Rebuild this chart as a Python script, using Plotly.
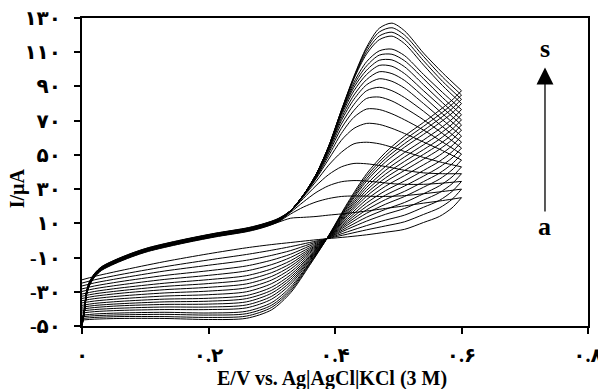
import plotly.graph_objects as go

# ---------------- data ----------------
curve_labels = list("abcdefghijklmnopqrs")

# shared start of the anodic (forward) scan, E in V, I in uA
fwd_start_E = [0, 0.004, 0.007, 0.012, 0.02, 0.031, 0.052, 0.078, 0.105, 0.157, 0.21, 0.263, 0.289, 0.31]
fwd_start_I = [-49, -40.5, -31, -25, -20.2, -16.3, -12.4, -8.5, -5.2, -0.7, 3.2, 6.5, 9.0, 11.8]
# small spread of the individual curves inside that shared band (a ... s)
band_shift = [-1.2, -1.0, -0.8, -0.6, -0.5, -0.4, -0.3, -0.2, -0.1, 0, 0.1, 0.2, 0.3, 0.4, 0.5, 0.6, 0.7, 0.85, 1.0]

# forward scan, second part
fwd_E = [0.33, 0.35, 0.37, 0.39, 0.41, 0.43, 0.45, 0.47, 0.49, 0.51, 0.54, 0.57, 0.6]
fwd_a = [13, 13.5, 14, 14.8, 15.5, 16.3, 17.2, 18.2, 19.2, 20.2, 21.8, 23.3, 25]
fwd_b = [15.5, 19.5, 22.5, 24.5, 25.7, 26, 25.9, 25.7, 25.8, 26.2, 27.3, 28.6, 30]
fwd_c = [16.5, 22.5, 28, 32, 34.3, 35, 34.7, 34, 33.2, 32.8, 32.8, 33.5, 34.5]
fwd_d = [17, 24.5, 32, 38.5, 43, 45, 44.8, 43.8, 42.5, 41, 39.5, 39, 39]
fwd_e = [17, 25.5, 34.5, 44, 51.5, 56.5, 57.4, 56.5, 54.5, 52, 48.5, 45.5, 43]
fwd_f = [17.5, 26, 36, 47.5, 58.5, 65.5, 68.4, 67.8, 65.5, 62.5, 57.5, 52.5, 47]
fwd_g = [17.5, 26, 36.5, 49.5, 62.5, 72, 76.8, 76.5, 74, 70.5, 64.5, 57.5, 50.5]
fwd_h = [17.5, 26, 37, 51, 65.5, 76, 83, 83.8, 81.5, 77.5, 70.5, 62.5, 54]
fwd_i = [17.5, 26.5, 37.5, 52, 68, 79.5, 87.5, 89.5, 87.5, 83.5, 75.5, 66.5, 57.5]
fwd_j = [17.5, 26.5, 38, 53, 70, 82.5, 91, 94.5, 93, 89, 80, 70.5, 61]
fwd_k = [17.5, 26.5, 38, 53.5, 71.5, 85, 94, 98.6, 97.5, 93.5, 84, 74, 64.5]
fwd_l = [17.5, 26.5, 38, 54, 73, 87.5, 97, 102.3, 101.8, 97.5, 87.5, 77.5, 67.5]
fwd_m = [17.5, 26.5, 38, 54, 74, 89.5, 99.5, 105.3, 105.5, 101.5, 91, 80.5, 70.5]
fwd_n = [17.5, 26.5, 38.5, 54.5, 74.5, 91, 102, 108.3, 108.8, 105, 94.5, 83.5, 73.5]
fwd_o = [17.5, 26.5, 38.5, 54.5, 75, 92.5, 104.5, 110.8, 111.8, 108, 97, 86.5, 76.5]
fwd_p = [17.5, 26.5, 38.5, 55, 75.5, 94.5, 109, 117.3, 119.4, 115, 102.5, 90.5, 80]
fwd_q = [17.5, 26.5, 38.5, 55, 75.5, 95, 110.5, 119.5, 121.7, 117.5, 105, 93, 82.5]
fwd_r = [17.5, 26.5, 38.5, 55, 76, 95.5, 112, 121.8, 124.3, 120, 107.5, 95.5, 85]
fwd_s = [17.5, 26.5, 38.5, 55, 76, 96, 113, 124, 127, 122.5, 109.5, 98, 87.5]

# reverse (cathodic) scan, 0.6 V back to 0 V
rev_E = [0.6, 0.585, 0.565, 0.54, 0.51, 0.48, 0.45, 0.42, 0.387, 0.36, 0.33, 0.30, 0.26, 0.20, 0.13, 0.06, 0.02, 0]
rev_a = [25, 19, 14, 10.5, 6.5, 4.8, 3.3, 2.1, 1, 0, -1.2, -2.4, -4.3, -7.8, -12.4, -17.7, -21, -23]
rev_b = [30, 24, 19, 15.2, 10.9, 8.5, 6.2, 3.7, 1, -1.2, -3.6, -5.7, -8.2, -11.4, -15.4, -20, -23, -24.9]
rev_c = [34.5, 28.6, 23.4, 19.4, 14.8, 11.9, 8.7, 5.1, 1, -2.2, -5.9, -8.7, -11.6, -14.5, -17.9, -22.1, -24.8, -26.6]
rev_d = [39, 33.1, 27.9, 23.6, 18.7, 15.3, 11.3, 6.6, 1, -3.2, -8, -11.5, -14.9, -17.7, -20.5, -24.1, -26.6, -28.3]
rev_e = [43, 37.1, 31.9, 27.3, 22.2, 18.2, 13.6, 7.8, 1, -4.2, -9.9, -14.1, -17.8, -20.4, -22.8, -26, -28.2, -29.8]
rev_f = [47, 41.2, 35.8, 31.1, 25.7, 21.2, 15.9, 9.1, 1, -5.1, -11.8, -16.6, -20.6, -22.9, -25, -27.8, -29.8, -31.3]
rev_g = [50.5, 44.7, 39.3, 34.4, 28.7, 23.9, 17.9, 10.2, 1, -5.9, -13.5, -18.8, -23, -25.2, -26.9, -29.4, -31.2, -32.6]
rev_h = [54, 48.2, 42.8, 37.6, 31.8, 26.5, 19.9, 11.3, 1, -6.7, -15.1, -21, -25.4, -27.4, -28.8, -30.9, -32.6, -33.9]
rev_i = [57.5, 51.8, 46.2, 40.9, 34.8, 29.1, 21.9, 12.4, 1, -7.5, -16.7, -23.1, -27.7, -29.6, -30.7, -32.5, -34, -35.2]
rev_j = [61, 55.3, 49.7, 44.2, 37.9, 31.7, 23.9, 13.6, 1, -8.4, -18.4, -25.2, -30, -31.7, -32.5, -34.1, -35.4, -36.5]
rev_k = [64.5, 58.8, 53.2, 47.5, 40.9, 34.3, 25.9, 14.7, 1, -9.2, -20, -27.3, -32.2, -33.8, -34.3, -35.6, -36.8, -37.9]
rev_l = [67.5, 61.8, 56.2, 50.3, 43.6, 36.6, 27.6, 15.6, 1, -9.9, -21.4, -29.1, -34, -35.5, -35.9, -37, -38, -39]
rev_m = [70.5, 64.9, 59.1, 53.1, 46.2, 38.8, 29.3, 16.6, 1, -10.6, -22.7, -30.8, -35.9, -37.2, -37.4, -38.2, -39.2, -40.1]
rev_n = [73.5, 67.9, 62.1, 55.9, 48.8, 41, 31, 17.5, 1, -11.3, -24.1, -32.6, -37.7, -38.9, -38.9, -39.6, -40.4, -41.2]
rev_o = [76.5, 70.9, 65.1, 58.7, 51.4, 43.3, 32.7, 18.5, 1, -11.9, -25.5, -34.3, -39.4, -40.4, -40.4, -40.9, -41.6, -42.4]
rev_p = [80, 74.4, 68.6, 62, 54.5, 45.9, 34.7, 19.6, 1, -12.8, -27.1, -36.3, -41.4, -42.4, -42, -42.4, -43, -43.7]
rev_q = [82.5, 77, 71, 64.3, 56.6, 47.8, 36.1, 20.4, 1, -13.3, -28.3, -37.8, -42.8, -43.6, -43.2, -43.5, -44, -44.6]
rev_r = [85, 79.5, 73.5, 66.7, 58.8, 49.6, 37.6, 21.2, 1, -13.9, -29.4, -39.1, -44.2, -45.0, -44.5, -44.5, -45, -45.6]
rev_s = [87.5, 82, 76, 69, 61, 51.5, 39, 22, 1, -14.5, -30.5, -40.5, -45.5, -46.2, -45.6, -45.6, -46, -46.5]

fwd_curves = [fwd_a, fwd_b, fwd_c, fwd_d, fwd_e, fwd_f, fwd_g, fwd_h, fwd_i, fwd_j,
              fwd_k, fwd_l, fwd_m, fwd_n, fwd_o, fwd_p, fwd_q, fwd_r, fwd_s]
rev_curves = [rev_a, rev_b, rev_c, rev_d, rev_e, rev_f, rev_g, rev_h, rev_i, rev_j,
              rev_k, rev_l, rev_m, rev_n, rev_o, rev_p, rev_q, rev_r, rev_s]

x_tick_vals = [0, 0.2, 0.4, 0.6, 0.8]
x_tick_text = ["۰", "۰.۲", "۰.۴", "۰.۶", "۰.۸"]
y_tick_vals = [-50, -30, -10, 10, 30, 50, 70, 90, 110, 130]
y_tick_text = ["-۵۰", "-۳۰", "-۱۰", "۱۰", "۳۰", "۵۰", "۷۰", "۹۰", "۱۱۰", "۱۳۰"]

x_title = "E/V vs. Ag|AgCl|KCl (3 M)"
y_title = "I/µA"

# ---------------- figure ----------------
FONT = "Liberation Serif, Times New Roman, DejaVu Sans, serif"
line_style = dict(color="black", width=1)

fig = go.Figure()
for lab, shift, fy, ry in zip(curve_labels, band_shift, fwd_curves, rev_curves):
    xs = fwd_start_E + fwd_E
    ys = [v + shift for v in fwd_start_I] + fy
    fig.add_trace(go.Scatter(x=xs, y=ys, mode="lines", line=dict(**line_style, shape="spline", smoothing=0.8),
                             name=lab + " (forward)", showlegend=False, hoverinfo="skip"))
    fig.add_trace(go.Scatter(x=rev_E, y=ry, mode="lines", line=dict(**line_style, shape="spline", smoothing=0.8),
                             name=lab + " (reverse)", showlegend=False, hoverinfo="skip"))

axis_common = dict(showline=True, linecolor="black", linewidth=2, mirror=True,
                   showgrid=False, zeroline=False, ticks="outside", ticklen=6,
                   tickwidth=1.5, tickcolor="black", ticklabeloverflow="allow",
                   automargin=False,
                   tickfont=dict(family=FONT, size=20, color="black", weight="bold"))

fig.update_xaxes(range=[0, 0.8], tickmode="array", tickvals=x_tick_vals, ticktext=x_tick_text,
                 ticklabelstandoff=4, **axis_common)
fig.update_yaxes(range=[-50, 130], tickmode="array", tickvals=y_tick_vals, ticktext=y_tick_text,
                 ticklabelstandoff=9, **axis_common)

fig.update_layout(
    width=598, height=389,
    margin=dict(l=82, r=10, t=18, b=63, autoexpand=False),
    paper_bgcolor="white", plot_bgcolor="white",
    annotations=[
        dict(text=x_title, xref="paper", yref="paper", x=0.494, y=-0.172,
             xanchor="center", yanchor="middle", showarrow=False,
             font=dict(family=FONT, size=20, color="black", weight="bold")),
        dict(text=y_title, xref="paper", yref="paper", x=-0.128, y=0.448,
             xanchor="center", yanchor="middle", textangle=-90, showarrow=False,
             font=dict(family=FONT, size=20, color="black", weight="bold")),
        # concentration arrow a -> s
        dict(x=0.732, y=101, ax=0.732, ay=16, xref="x", yref="y", axref="x", ayref="y",
             text="", showarrow=True, arrowhead=2, arrowsize=2.6, arrowwidth=1.3, arrowcolor="black"),
        dict(text="s", x=0.732, y=112, xref="x", yref="y", showarrow=False,
             font=dict(family=FONT, size=26, color="black", weight="bold")),
        dict(text="a", x=0.732, y=8, xref="x", yref="y", showarrow=False,
             font=dict(family=FONT, size=26, color="black", weight="bold")),
    ],
)

fig.write_html("out.html")
